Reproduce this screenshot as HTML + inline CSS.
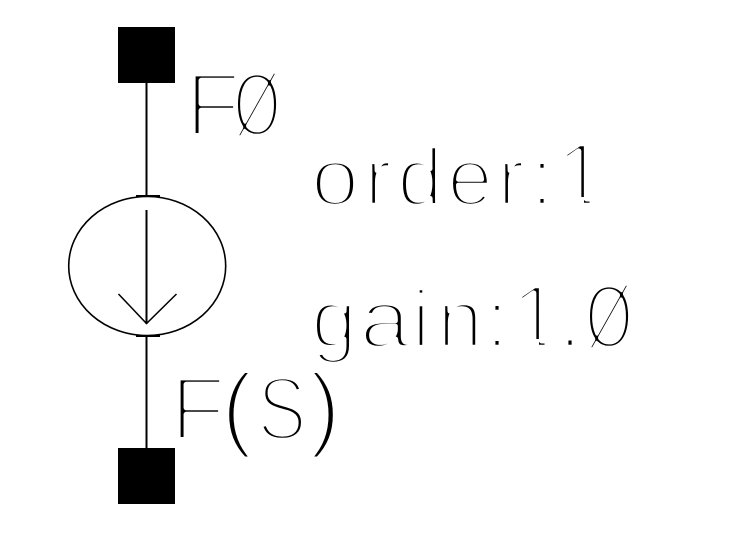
<!DOCTYPE html>
<html><head><meta charset="utf-8"><style>
html,body{margin:0;padding:0;background:#fff}
svg{display:block}
text{font-family:"Liberation Sans",sans-serif;font-size:90px;fill:#000;stroke:#fff;stroke-width:5.4px;text-anchor:middle;stroke-linejoin:round}
text.l{font-size:82px;stroke-width:4.6px}
text.p{font-size:94px;stroke-width:4px}
</style></head><body>
<svg width="734" height="555" viewBox="0 0 734 555" xmlns="http://www.w3.org/2000/svg">
<rect width="734" height="555" fill="#fff"/>
<text x="213" y="135.5">F</text>
<text transform="translate(257,135.5) scale(.68,1)">Ø</text>
<text transform="translate(335,205) scale(1.06,1)" class="l">o</text>
<text class="l" x="378" y="205">r</text>
<text class="l" x="420" y="205">d</text>
<text class="l" x="470" y="205">e</text>
<text class="l" x="511" y="205">r</text>
<text class="l" x="542" y="205">:</text>
<text x="581" y="205.5">1</text>
<text class="l" x="334" y="347">g</text>
<text transform="translate(385,347) scale(1.12,1)" class="l">a</text>
<text class="l" x="421" y="347">i</text>
<text class="l" x="460" y="347">n</text>
<text class="l" x="497" y="347">:</text>
<text x="536" y="347.5">1</text>
<text class="l" x="570" y="347">.</text>
<text transform="translate(609,347.5) scale(.68,1)">Ø</text>
<text x="198" y="439.5">F</text>
<text class="p" x="237" y="439">(</text>
<text transform="translate(282,439.5) scale(.82,1)">S</text>
<text class="p" x="325" y="439">)</text>
<g fill="#fff">
<rect x="556" y="197" width="28" height="14"/>
<rect x="589.5" y="197" width="22" height="14"/>
<rect x="512" y="339" width="27" height="14"/>
<rect x="544.5" y="339" width="19" height="14"/>
</g>
<g fill="#000">
<rect x="118" y="27" width="57" height="56"/>
<rect x="118" y="448" width="57" height="56"/>
</g>
<g fill="none" stroke="#000">
<ellipse cx="147.2" cy="266" rx="78.5" ry="69.5" stroke-width="1.6"/>
<path d="M146.5 83V196M146.5 336V448M146.5 210V324" stroke-width="2"/>
<path d="M118.5 294L146.5 323.5L176.5 294" stroke-width="1.5"/>
<path d="M136 196H160M136 336H160" stroke-width="2"/>
</g>
</svg>
</body></html>
